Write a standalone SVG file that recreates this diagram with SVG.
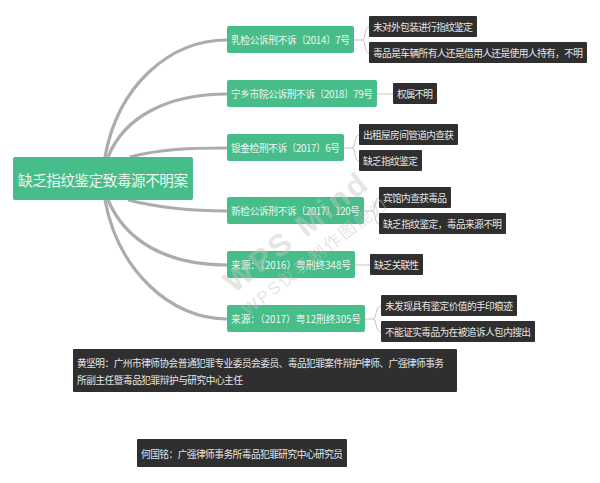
<svg xmlns="http://www.w3.org/2000/svg" width="600" height="483" viewBox="0 0 600 483">
<style>
text{font-family:"Noto Sans CJK SC","Liberation Sans",sans-serif;dominant-baseline:central}
.g rect{fill:#47bd8a}
.g text{fill:#eef8f3;font-size:9.7px}
.d rect{fill:#2f2f2f}
.d text{fill:#e6e6e6;font-size:9.7px}
.m{fill:none;stroke:#acacac;stroke-width:3.2}
.t{fill:none;stroke:#c4c4c4;stroke-width:1}
.wm{fill:#c4c4c4;fill-opacity:.45;font-family:"Liberation Sans","Noto Sans CJK SC",sans-serif;dominant-baseline:auto}
</style>
<rect width="600" height="483" fill="#fff"/>
<g id="connectors">
<path class="m" d="M105 157C118 85 170 40 227 40"/>
<path class="m" d="M108 157C125 115 170 94 227 94"/>
<path class="m" d="M130 157C160 149 190 148 227 148"/>
<path class="m" d="M128 200C160 208 190 211 227 211"/>
<path class="m" d="M108 200C125 240 165 265 227 265"/>
<path class="m" d="M105 200C118 270 170 319 227 319"/>
<path class="t" d="M354 40H362M362 40C366 40 364 27 369 27M362 40C366 40 364 53 369 53"/>
<path class="t" d="M377 94H393"/>
<path class="t" d="M344 148H352M352 148C356 148 354 135 359 135M352 148C356 148 354 161 359 161"/>
<path class="t" d="M364 211H372M372 211C376 211 374 198 379 198M372 211C376 211 374 224 379 224"/>
<path class="t" d="M355 265H370"/>
<path class="t" d="M365 319H373M373 319C377 319 375 306 381 306M373 319C377 319 375 332 381 332"/>
</g>
<g id="root" class="g"><rect x="13" y="157" width="180" height="43" rx="2"/><text x="18" y="179" style="font-size:14.600px" textLength="170">缺乏指纹鉴定致毒源不明案</text></g>
<g id="n1" class="g"><rect x="227" y="26" width="127" height="27" rx="2"/><text x="231" y="40" textLength="119">乳检公诉刑不诉〔2014〕7号</text></g>
<g id="n2" class="g"><rect x="227" y="80" width="150" height="27" rx="2"/><text x="231" y="94" textLength="142">宁乡市院公诉刑不诉〔2018〕79号</text></g>
<g id="n3" class="g"><rect x="227" y="134" width="117" height="27" rx="2"/><text x="231" y="148" textLength="109">银金检刑不诉〔2017〕6号</text></g>
<g id="n4" class="g"><rect x="227" y="197" width="137" height="27" rx="2"/><text x="231" y="211" textLength="129">新检公诉刑不诉〔2017〕120号</text></g>
<g id="n5" class="g"><rect x="227" y="251" width="128" height="27" rx="2"/><text x="231" y="265" textLength="120">来源：（2016）粤刑终348号</text></g>
<g id="n6" class="g"><rect x="227" y="305" width="138" height="27" rx="2"/><text x="231" y="319" textLength="130">来源：（2017）粤12刑终305号</text></g>
<g id="d1a" class="d"><rect x="369" y="16" width="108" height="21" rx="1"/><text x="373" y="27" textLength="100">未对外包装进行指纹鉴定</text></g>
<g id="d1b" class="d"><rect x="369" y="42" width="218" height="21" rx="1"/><text x="373" y="53" textLength="210">毒品是车辆所有人还是借用人还是使用人持有，不明</text></g>
<g id="d2" class="d"><rect x="393" y="83" width="44" height="21" rx="1"/><text x="397" y="94" textLength="36">权属不明</text></g>
<g id="d3a" class="d"><rect x="359" y="124" width="99" height="21" rx="1"/><text x="363" y="135" textLength="91">出租屋房间管道内查获</text></g>
<g id="d3b" class="d"><rect x="359" y="150" width="63" height="21" rx="1"/><text x="363" y="161" textLength="55">缺乏指纹鉴定</text></g>
<g id="d4a" class="d"><rect x="379" y="187" width="72" height="21" rx="1"/><text x="383" y="198" textLength="64">宾馆内查获毒品</text></g>
<g id="d4b" class="d"><rect x="379" y="213" width="127" height="21" rx="1"/><text x="383" y="224" textLength="119">缺乏指纹鉴定，毒品来源不明</text></g>
<g id="d5" class="d"><rect x="370" y="254" width="53" height="21" rx="1"/><text x="374" y="265" textLength="45">缺乏关联性</text></g>
<g id="d6a" class="d"><rect x="381" y="295" width="136" height="21" rx="1"/><text x="385" y="306" textLength="128">未发现具有鉴定价值的手印痕迹</text></g>
<g id="d6b" class="d"><rect x="381" y="321" width="154" height="21" rx="1"/><text x="385" y="332" textLength="146">不能证实毒品为在被追诉人包内搜出</text></g>
<g id="bio1" class="d"><rect x="73" y="349" width="384" height="43" rx="1"/><text x="77" y="363" textLength="367">黄坚明：广州市律师协会普通犯罪专业委员会委员、毒品犯罪案件辩护律师、广强律师事务</text><text x="77" y="380" textLength="166">所副主任暨毒品犯罪辩护与研究中心主任</text></g>
<g id="bio2" class="d"><rect x="137" y="439" width="210" height="28" rx="1"/><text x="141" y="454" textLength="202">何国铭：广强律师事务所毒品犯罪研究中心研究员</text></g>
<text class="wm" transform="translate(234 294) rotate(-38)" font-size="31" font-weight="700" textLength="172">WPS Mind</text>
<text class="wm" transform="translate(248 316) rotate(-38)" font-size="17" textLength="178">WPS仪表制作图能力</text>
</svg>
